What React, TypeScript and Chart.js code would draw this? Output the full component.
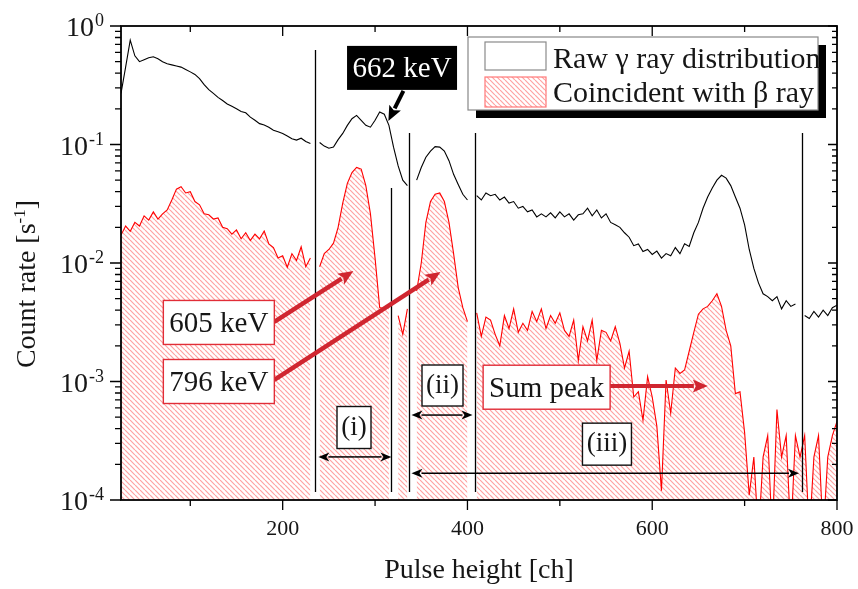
import React, { useEffect, useRef } from "react";
import { Chart, registerables } from "chart.js";
Chart.register(...registerables);

// ---------- data ----------
const CH_START = 25;
const CH_STEP = 5;

const RAW_GAMMA = [
  0.27, 0.45, 0.76, 0.56, 0.50, 0.52, 0.54, 0.55, 0.53, 0.50,
  0.48, 0.47, 0.46, 0.45, 0.43, 0.41, 0.39, 0.36, 0.32, 0.29,
  0.27, 0.25, 0.235, 0.22, 0.21, 0.20, 0.19, 0.185, 0.17, 0.16,
  0.15, 0.146, 0.14, 0.132, 0.128, 0.124, 0.118, 0.112, 0.109, 0.113,
  0.106, 0.102, null, 0.104, 0.097, 0.093, 0.095, 0.11, 0.124, 0.145,
  0.165, 0.176, 0.16, 0.145, 0.14, 0.16, 0.188, 0.18, 0.145, 0.095,
  0.066, 0.05, 0.045, null, 0.05, 0.064, 0.078, 0.088, 0.096, 0.095,
  0.088, 0.073, 0.056, 0.046, 0.038, 0.034, null, 0.037, 0.034, 0.039,
  0.037, 0.038, 0.034, 0.036, 0.032, 0.033, 0.029, 0.030, 0.027, 0.028,
  0.0245, 0.026, 0.0245, 0.0265, 0.024, 0.027, 0.0245, 0.026, 0.023, 0.0255,
  0.026, 0.029, 0.025, 0.028, 0.024, 0.026, 0.022, 0.021, 0.020, 0.018,
  0.0165, 0.014, 0.0145, 0.0125, 0.013, 0.0118, 0.0126, 0.011, 0.012, 0.0115,
  0.0135, 0.012, 0.0145, 0.0138, 0.018, 0.022, 0.029, 0.036, 0.043, 0.050,
  0.055, 0.052, 0.045, 0.036, 0.029, 0.021, 0.013, 0.009, 0.0068, 0.0055,
  0.0052, 0.0048, 0.0052, 0.0041, 0.0048, 0.0043, 0.0045, null, 0.0036, 0.0034,
  0.0039, 0.0035, 0.004, 0.0036, 0.0042, 0.0044,
];

const COINCIDENT = [
  0.0172, 0.0205, 0.0185, 0.022, 0.0205, 0.025, 0.023, 0.027, 0.0235, 0.026,
  0.028, 0.034, 0.042, 0.044, 0.039, 0.040, 0.033, 0.031, 0.026, 0.0255,
  0.0235, 0.024, 0.020, 0.0195, 0.0175, 0.019, 0.016, 0.018, 0.0155, 0.0175,
  0.016, 0.0186, 0.0145, 0.0135, 0.011, 0.0115, 0.0092, 0.012, 0.0105, 0.0137,
  0.0093, 0.011, null, 0.0093, 0.012, 0.013, 0.0147, 0.020, 0.032, 0.047,
  0.058, 0.064, 0.062, 0.045, 0.026, 0.011, 0.0042, 0.0041, 0.0043, null,
  0.0036, 0.0025, 0.0041, null, 0.0058, 0.010, 0.022, 0.033, 0.038, 0.039,
  0.033, 0.022, 0.012, 0.0062, 0.0042, 0.0032, null, 0.0038, 0.0024, 0.0035,
  0.0033, 0.0025, 0.002, 0.0036, 0.0028, 0.0041, 0.0026, 0.0031, 0.0027, 0.0039,
  0.0032, 0.0041, 0.0028, 0.0036, 0.0031, 0.0038, 0.0027, 0.0024, 0.0033, 0.0015,
  0.0029, 0.0022, 0.0033, 0.0015, 0.0027, 0.0026, 0.0022, 0.0029, 0.0021, 0.0013,
  0.0018, 0.00074, 0.00082, 0.00047, 0.0011, 0.00074, 0.00042, 0.00012, 0.00103, 0.00054,
  0.0013, 0.00117, 0.00125, 0.0018, 0.0026, 0.0037, 0.0041, 0.0043, 0.0048, 0.0055,
  0.0043, 0.0027, 0.002, 0.00079, 0.00082, 0.00037, 0.00011, 0.00023, 0.00005, 0.00023,
  0.00035, 0.00005, 0.00058, 0.00023, 0.00035, 0.00005, 0.00035, 0.00023, 0.00035, 0.00005,
  0.00023, 0.00035, 0.00005, 0.00023, 0.00035, 0.00046,
];

const CHANNELS = RAW_GAMMA.map((_, i) => CH_START + CH_STEP * i);

const X_MIN = 25;
const X_MAX = 800;
const Y_MIN = 1e-4;
const Y_MAX = 1;
const X_MAJOR = [200, 400, 600, 800];
const X_MINOR = [100, 300, 500, 700];
const Y_DECADES = [1, 0.1, 0.01, 0.001, 0.0001];
const Y_EXPONENT_LABELS = ["0", "-1", "-2", "-3", "-4"];

const LEGEND_LABELS = ["Raw \u03b3 ray distribution", "Coincident with \u03b2 ray"];

// annotations in data coordinates (channel, count rate)
const V_LINES = [
  { ch: 235.3, top: 0.627 },
  { ch: 317.7, top: 0.043 },
  { ch: 337.2, top: 0.125 },
  { ch: 407.7, top: 0.125 },
  { ch: 762.1, top: 0.125 },
];
const V_LINE_BOTTOM = 1.17e-4;

const LABELS = [
  { text: "662 keV", ch: 329.2, v: 0.443, w: 110, h: 44, kind: "dark", size: 29 },
  { text: "605 keV", ch: 130.9, v: 0.00315, w: 111, h: 44, kind: "red", size: 29 },
  { text: "796 keV", ch: 130.9, v: 0.001, w: 111, h: 44, kind: "red", size: 29 },
  { text: "Sum peak", ch: 485.7, v: 0.000895, w: 127, h: 44, kind: "red", size: 29 },
  { text: "(i)", ch: 277.2, v: 0.000409, w: 34, h: 42, kind: "plain", size: 27 },
  { text: "(ii)", ch: 373, v: 0.000925, w: 41, h: 41, kind: "plain", size: 27 },
  { text: "(iii)", ch: 551, v: 0.000296, w: 49, h: 42, kind: "plain", size: 27 },
];

const ARROWS = [
  { from: [190.9, 0.00318], to: [276.5, 0.00856], color: "rgb(208,38,48)", w: 4.5 },
  { from: [190.9, 0.00103], to: [370.8, 0.0084], color: "rgb(208,38,48)", w: 4.5 },
  { from: [554, 0.000917], to: [660.2, 0.000917], color: "rgb(208,38,48)", w: 4 },
  { from: [330.7, 0.283], to: [314.4, 0.158], color: "#000", w: 4 },
];

const SPANS = [
  { from: 238.6, to: 317.7, v: 0.000231 },
  { from: 339.4, to: 405.5, v: 0.000521 },
  { from: 339.4, to: 758.9, v: 0.000168 },
];

const FONT = '"Liberation Serif", "Times New Roman", serif';
const TEXT = "#161616";

function makeHatch(): CanvasPattern | string {
  const c = document.createElement("canvas");
  const s = 5;
  c.width = s;
  c.height = s;
  const g = c.getContext("2d");
  if (!g) return "rgba(255,0,0,0.2)";
  g.strokeStyle = "rgba(255,70,70,0.5)";
  g.lineWidth = 1.2;
  g.beginPath();
  for (const k of [-s, 0, s]) {
    g.moveTo(k, 0);
    g.lineTo(k + s, s);
  }
  g.stroke();
  return g.createPattern(c, "repeat") || "rgba(255,0,0,0.2)";
}

function drawArrow(ctx: CanvasRenderingContext2D, x1: number, y1: number, x2: number, y2: number, color: string, width: number, headLen: number, headW: number) {
  const a = Math.atan2(y2 - y1, x2 - x1);
  const bx = x2 - headLen * Math.cos(a);
  const by = y2 - headLen * Math.sin(a);
  ctx.save();
  ctx.strokeStyle = color;
  ctx.lineWidth = width;
  ctx.lineCap = "butt";
  ctx.beginPath();
  ctx.moveTo(x1, y1);
  ctx.lineTo(bx + 1 * Math.cos(a), by + 1 * Math.sin(a));
  ctx.stroke();
  ctx.fillStyle = color;
  ctx.beginPath();
  ctx.moveTo(x2, y2);
  ctx.lineTo(bx + (headW / 2) * Math.sin(a), by - (headW / 2) * Math.cos(a));
  ctx.lineTo(bx + 3 * Math.cos(a), by + 3 * Math.sin(a));
  ctx.lineTo(bx - (headW / 2) * Math.sin(a), by + (headW / 2) * Math.cos(a));
  ctx.closePath();
  ctx.fill();
  ctx.restore();
}

export default function App() {
  const ref = useRef<HTMLCanvasElement>(null);

  useEffect(() => {
    const canvas = ref.current;
    if (!canvas) return;
    const hatch = makeHatch();

    const decor = {
      id: "decor",
      afterDatasetsDraw(chart: any) {
        const ctx: CanvasRenderingContext2D = chart.ctx;
        const ca = chart.chartArea;
        const xs = chart.scales.x;
        const ys = chart.scales.y;
        const px = (v: number) => xs.getPixelForValue(v);
        const py = (v: number) => ys.getPixelForValue(v);
        ctx.save();

        // vertical region lines
        ctx.strokeStyle = "#000";
        ctx.lineWidth = 1.3;
        for (const l of V_LINES) {
          const x = Math.round(px(l.ch)) + 0.5;
          ctx.beginPath();
          ctx.moveTo(x, py(l.top));
          ctx.lineTo(x, py(V_LINE_BOTTOM));
          ctx.stroke();
        }

        // double-headed spans
        for (const s of SPANS) {
          const y = py(s.v);
          const x1 = px(s.from);
          const x2 = px(s.to);
          const mid = (x1 + x2) / 2;
          drawArrow(ctx, mid, y, x1, y, "#000", 1.5, 11, 9);
          drawArrow(ctx, mid, y, x2, y, "#000", 1.5, 11, 9);
        }

        // arrows
        for (const a of ARROWS) {
          drawArrow(ctx, px(a.from[0]), py(a.from[1]), px(a.to[0]), py(a.to[1]), a.color, a.w, 15, 13);
        }

        // label boxes
        for (const l of LABELS) {
          const cx = px(l.ch);
          const cy = py(l.v);
          const x0 = cx - l.w / 2;
          const y0 = cy - l.h / 2;
          if (l.kind === "dark") {
            ctx.fillStyle = "#000";
            ctx.fillRect(x0, y0, l.w, l.h);
          } else {
            ctx.fillStyle = "#fff";
            ctx.fillRect(x0, y0, l.w, l.h);
            ctx.strokeStyle = l.kind === "red" ? "rgb(225,45,55)" : "#111";
            ctx.lineWidth = 1.4;
            ctx.strokeRect(x0, y0, l.w, l.h);
          }
          ctx.fillStyle = l.kind === "dark" ? "#fff" : TEXT;
          ctx.font = `${l.size}px ${FONT}`;
          ctx.textAlign = "center";
          ctx.textBaseline = "alphabetic";
          const off = l.kind === "plain" ? 0.26 * l.size : 0.33 * l.size;
          ctx.fillText(l.text, cx, cy + off);
        }

        // frame
        ctx.strokeStyle = "#000";
        ctx.lineWidth = 1.8;
        ctx.strokeRect(ca.left, ca.top, ca.right - ca.left, ca.bottom - ca.top);

        // ticks
        ctx.lineWidth = 1.3;
        ctx.beginPath();
        for (const v of X_MAJOR) {
          const x = px(v);
          ctx.moveTo(x, ca.bottom); ctx.lineTo(x, ca.bottom + 10);
          ctx.moveTo(x, ca.top); ctx.lineTo(x, ca.top + 10);
        }
        for (const v of X_MINOR) {
          const x = px(v);
          ctx.moveTo(x, ca.bottom); ctx.lineTo(x, ca.bottom + 6);
          ctx.moveTo(x, ca.top); ctx.lineTo(x, ca.top + 6);
        }
        for (const d of Y_DECADES) {
          const y = py(d);
          ctx.moveTo(ca.left - 11, y); ctx.lineTo(ca.left, y);
          ctx.moveTo(ca.right - 9, y); ctx.lineTo(ca.right, y);
          if (d < 1) {
            for (let m = 2; m <= 9; m++) {
              const yy = py(d * m);
              ctx.moveTo(ca.left - 6, yy); ctx.lineTo(ca.left, yy);
              ctx.moveTo(ca.right - 5, yy); ctx.lineTo(ca.right, yy);
            }
          }
        }
        ctx.stroke();

        // tick labels
        ctx.fillStyle = TEXT;
        ctx.textBaseline = "alphabetic";
        ctx.font = `22px ${FONT}`;
        ctx.textAlign = "center";
        for (const v of X_MAJOR) ctx.fillText(String(v), px(v), ca.bottom + 35);

        Y_DECADES.forEach((d, i) => {
          const y = py(d);
          const sup = Y_EXPONENT_LABELS[i];
          ctx.font = `18px ${FONT}`;
          const sw = ctx.measureText(sup).width;
          const R = ca.left - 17;
          ctx.textAlign = "left";
          ctx.fillText(sup, R - sw, y);
          ctx.font = `28px ${FONT}`;
          ctx.textAlign = "right";
          ctx.fillText("10", R - sw - 1, y + 10);
        });

        // axis titles
        ctx.font = `28px ${FONT}`;
        ctx.textAlign = "center";
        ctx.fillText("Pulse height [ch]", (ca.left + ca.right) / 2, ca.bottom + 78);

        ctx.save();
        ctx.translate(35, (ca.top + ca.bottom) / 2 + 21);
        ctx.rotate(-Math.PI / 2);
        const main = "Count rate [s";
        const sup = "-1";
        const tail = "]";
        ctx.font = `28px ${FONT}`;
        const wMain = ctx.measureText(main).width;
        const wTail = ctx.measureText(tail).width;
        ctx.font = `17px ${FONT}`;
        const wSup = ctx.measureText(sup).width;
        const total = wMain + wSup + wTail;
        let x = -total / 2;
        ctx.textAlign = "left";
        ctx.font = `28px ${FONT}`;
        ctx.fillText(main, x, 0);
        x += wMain;
        ctx.font = `17px ${FONT}`;
        ctx.fillText(sup, x, -10);
        x += wSup;
        ctx.font = `28px ${FONT}`;
        ctx.fillText(tail, x, 0);
        ctx.restore();

        // legend
        const lx = ca.right - 369;
        const ly = ca.top + 11;
        const lw = 350;
        const lh = 73;
        ctx.fillStyle = "#000";
        ctx.fillRect(lx + 8, ly + 8, lw, lh);
        ctx.fillStyle = "#fff";
        ctx.fillRect(lx, ly, lw, lh);
        ctx.strokeStyle = "#888";
        ctx.lineWidth = 1.2;
        ctx.strokeRect(lx, ly, lw, lh);
        // swatches
        ctx.strokeStyle = "#8a8a8a";
        ctx.strokeRect(lx + 17, ly + 5, 61, 28);
        ctx.fillStyle = hatch as any;
        ctx.fillRect(lx + 17, ly + 40, 61, 30);
        ctx.strokeStyle = "rgb(255,120,120)";
        ctx.strokeRect(lx + 17, ly + 40, 61, 30);
        ctx.fillStyle = TEXT;
        ctx.font = `30px ${FONT}`;
        ctx.textAlign = "left";
        ctx.fillText(LEGEND_LABELS[0], lx + 85, ly + 31);
        ctx.fillText(LEGEND_LABELS[1], lx + 85, ly + 65);

        ctx.restore();
      },
    };

    const chart = new Chart(canvas, {
      type: "line",
      data: {
        datasets: [
          {
            label: LEGEND_LABELS[0],
            data: CHANNELS.map((c, i) => ({ x: c, y: RAW_GAMMA[i] })) as any,
            borderColor: "#000",
            borderWidth: 1.1,
            pointRadius: 0,
            fill: false,
            tension: 0,
            spanGaps: false,
          },
          {
            label: LEGEND_LABELS[1],
            data: CHANNELS.map((c, i) => ({ x: c, y: COINCIDENT[i] })) as any,
            borderColor: "#ff0000",
            borderWidth: 1.1,
            backgroundColor: hatch as any,
            pointRadius: 0,
            fill: "start",
            tension: 0,
            spanGaps: false,
          },
        ],
      },
      options: {
        animation: false,
        responsive: false,
        devicePixelRatio: 1,
        layout: { padding: { left: 121, top: 26, right: 21, bottom: 89 } },
        plugins: { legend: { display: false }, tooltip: { enabled: false } },
        scales: {
          x: { type: "linear", min: X_MIN, max: X_MAX, display: false },
          y: { type: "logarithmic", min: Y_MIN, max: Y_MAX, display: false },
        },
      },
      plugins: [decor],
    });
    return () => chart.destroy();
  }, []);

  return (
    <div style={{ position: "fixed", left: 0, top: 0, width: 858, height: 589, background: "#fff" }}>
      <canvas ref={ref} width={858} height={589} style={{ display: "block" }} />
    </div>
  );
}
